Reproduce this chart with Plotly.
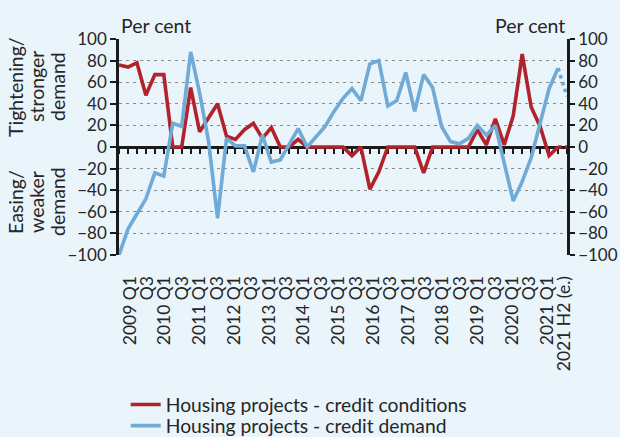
import plotly.graph_objects as go

# Categories (quarterly, last point is an estimate for 2021 H2)
quarters = [f"{y} Q{q}" for y in range(2009, 2021) for q in (1, 2, 3, 4)] + ["2021 Q1", "2021 Q2", "2021 H2 (e.)"]

credit_conditions = [76, 74, 78, 48, 67, 67, 0, 0, 55, 14, 27, 40, 10, 7, 16, 22, 8, 18, 0,
                     0, 7, 0, 0, 0, 0, 0, -8, 0,
                     -39, -23, 0, 0, 0, 0, -24, 0,
                     0, 0, 0, 0,
                     16, 2, 26, 2, 29, 86, 37, 19, -8, 0, 0]

credit_demand = [-100, -76, -62, -48, -24, -27, 22, 19, 88, 50, 5, -66, 8, 1, 1, -23, 11, -14, -12,
                 2, 17, 0, 10, 19, 33, 45, 54, 43, 77, 80, 38, 43, 69, 33, 67, 55, 19,
                 5, 3, 8, 20, 11, 20, -15, -50, -32, -10, 22, 54, 73, 47]

y_ticks = list(range(-100, 101, 20))

# the category-label axis of the original is laid out slightly differently from the data axis
label_range = [-1.27, 50.3]

RED = "#b2222a"
BLUE = "#70aad6"
BG = "#eaf4fb"
TXT = "#262626"
FONT = "Lato"
AX = "#1a1a1a"

x_idx = list(range(len(quarters)))
last = len(quarters) - 1

# tick labels: every second quarter plus the estimate
tick_vals, tick_text = [], []
for i, q in enumerate(quarters):
    if i == last:
        tick_vals.append(i); tick_text.append(q)
    elif q.endswith("Q1"):
        tick_vals.append(i); tick_text.append(q)
    elif q.endswith("Q3"):
        tick_vals.append(i); tick_text.append("Q3")

fig = go.Figure()

# invisible helper traces so that the helper axes exist
fig.add_trace(go.Scatter(x=x_idx, y=credit_conditions, xaxis="x", yaxis="y",
                         mode="lines", line=dict(width=0), opacity=0,
                         hoverinfo="skip", showlegend=False))
fig.add_trace(go.Scatter(x=x_idx, y=credit_demand, xaxis="x2", yaxis="y2",
                         mode="lines", line=dict(width=0), opacity=0,
                         hoverinfo="skip", showlegend=False))

fig.add_trace(go.Scatter(x=x_idx[:last], y=credit_conditions[:last], mode="lines", xaxis="x2",
                         line=dict(color=RED, width=3.6),
                         name="Housing projects - credit conditions", legend="legend"))
fig.add_trace(go.Scatter(x=x_idx[last - 1:], y=credit_conditions[last - 1:], mode="lines", xaxis="x2",
                         line=dict(color=RED, width=3.6, dash="dot"), showlegend=False))
fig.add_trace(go.Scatter(x=x_idx[:last], y=credit_demand[:last], mode="lines", xaxis="x2",
                         line=dict(color=BLUE, width=3.6),
                         name="Housing projects - credit demand", legend="legend2"))
fig.add_trace(go.Scatter(x=x_idx[last - 1:], y=credit_demand[last - 1:], mode="lines", xaxis="x2",
                         line=dict(color=BLUE, width=3.6, dash="dot"), showlegend=False))

ytick_font = dict(family=FONT, size=17, color=TXT)
xtick_font = dict(family=FONT, size=17.5, color=TXT)
leg_font = dict(family=FONT, size=19.3, color=TXT)

fig.update_layout(
    template="none",
    width=620, height=437,
    margin=dict(l=119, r=53, t=39, b=182, autoexpand=False),
    paper_bgcolor=BG, plot_bgcolor=BG,
    font=dict(family=FONT, size=17, color=TXT),
    xaxis=dict(range=label_range, tickmode="array", tickvals=tick_vals, ticktext=tick_text,
               tickangle=-90, ticks="outside", ticklen=13, tickcolor="rgba(0,0,0,0)",
               showline=False, showgrid=False, zeroline=False, tickfont=xtick_font,
               automargin=False),
    xaxis2=dict(range=[0, last], overlaying="x", anchor="free", position=0.5,
                showline=True, linecolor=AX, linewidth=2.5, layer="below traces",
                ticks="outside", ticklen=5, tickwidth=2, tickcolor=AX,
                tickmode="linear", tick0=0, dtick=1, showticklabels=False,
                showgrid=False, zeroline=False, automargin=False),
    yaxis=dict(range=[-100, 100], tickmode="array", tickvals=y_ticks,
               showline=True, linecolor=AX, linewidth=2.5,
               ticks="outside", ticklen=6, tickwidth=2, tickcolor=AX,
               showgrid=True, gridcolor="#8a8a8a", gridwidth=1.3, griddash="3px,4px",
               zeroline=False, tickfont=ytick_font, automargin=False),
    yaxis2=dict(range=[-100, 100], tickmode="array", tickvals=y_ticks, overlaying="y",
                side="right", anchor="x",
                showline=True, linecolor=AX, linewidth=2.5,
                ticks="outside", ticklen=5, tickwidth=2, tickcolor=AX,
                showgrid=False, zeroline=False, tickfont=ytick_font, automargin=False),
    legend=dict(x=0.015, y=-0.694, xanchor="left", yanchor="middle",
                bgcolor="rgba(0,0,0,0)", font=leg_font, itemwidth=30),
    legend2=dict(x=0.015, y=-0.792, xanchor="left", yanchor="middle",
                 bgcolor="rgba(0,0,0,0)", font=leg_font, itemwidth=30),
    showlegend=True,
)

ann_font = dict(family=FONT, size=19.5, color=TXT)
fig.add_annotation(text="Per cent", xref="paper", yref="paper", x=0.0, y=1.0,
                   xanchor="left", yanchor="bottom", showarrow=False, font=ann_font)
fig.add_annotation(text="Per cent", xref="paper", yref="paper", x=1.0, y=1.0,
                   xanchor="right", yanchor="bottom", showarrow=False, font=ann_font)

# side labels, one rotated annotation per line (positions in page pixels)
plot_l, plot_w, plot_b, plot_h = 119, 448, 255, 216
side_lines = [("Tightening/", 15, 87), ("stronger", 36, 87), ("demand", 57, 87),
              ("Easing/", 15, 202), ("weaker", 36, 202), ("demand", 57, 202)]
for txt, px, py in side_lines:
    fig.add_annotation(text=txt, xref="paper", yref="paper",
                       x=(px - plot_l) / plot_w, y=(plot_b - py) / plot_h,
                       xanchor="center", yanchor="middle", textangle=-90,
                       showarrow=False, font=ann_font)

# remove the default page margin so the 620x437 figure fills the window exactly
fig.write_html("out.html",
               config={"displayModeBar": False},
               post_script="document.body.style.margin='0';document.body.style.overflow='hidden';")
